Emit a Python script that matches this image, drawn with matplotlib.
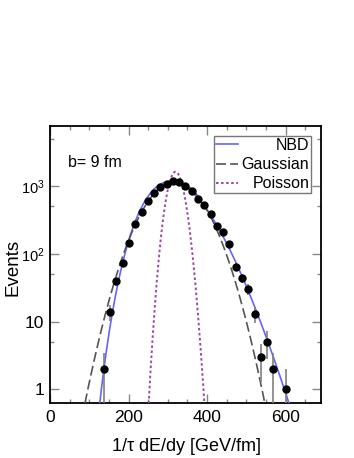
import math
import numpy as np
import matplotlib
matplotlib.use("Agg")
import matplotlib.pyplot as plt
from matplotlib.ticker import FixedLocator, NullFormatter, FuncFormatter

plt.rcParams['font.family'] = ['Liberation Sans', 'DejaVu Sans']
plt.rcParams['mathtext.fontset'] = 'custom'
plt.rcParams['mathtext.rm'] = 'Liberation Sans'

# ---- data ----
energy = [137, 153, 169, 185, 201, 217, 233, 249, 265, 281, 297, 313, 329, 345,
          361, 377, 393, 409, 425, 441, 457, 473, 489, 505, 521, 537, 553, 569, 601]
events = [2, 14, 40, 73, 146, 272, 418, 607, 796, 977, 1070, 1197, 1133, 989,
          851, 649, 524, 382, 254, 211, 138, 64, 44, 30, 13, 3, 5, 2, 1]

# fit-curve parameters
nbd_mode, nbd_shape, nbd_peak = 307.0, 26.3, 1170.0
gauss_mean, gauss_sigma, gauss_peak = 318.0, 59.0, 1160.0
pois_mean, pois_peak = 320.0, 1625.0

xgrid = np.linspace(1, 690, 1400)

def nbd_curve(x):
    a1 = nbd_shape - 1.0
    r = x / nbd_mode
    return nbd_peak * np.exp(a1 * (np.log(r) - r + 1.0))

def gauss_curve(x):
    return gauss_peak * np.exp(-0.5 * ((x - gauss_mean) / gauss_sigma) ** 2)

def pois_curve(x):
    lg = np.array([math.lgamma(v + 1.0) for v in x])
    logp = x * np.log(pois_mean) - pois_mean - lg
    lgm = math.lgamma(pois_mean + 1.0)
    logp0 = pois_mean * np.log(pois_mean) - pois_mean - lgm
    return pois_peak * np.exp(logp - logp0)

fig = plt.figure(figsize=(3.54, 4.58), dpi=100)
ax = fig.add_axes([0.1412, 0.1207, 0.7656, 0.6042])

ax.plot(xgrid, nbd_curve(xgrid), color='#6464ff', lw=1.2, label='NBD', zorder=3)
ax.plot(xgrid, gauss_curve(xgrid), color='#555555', lw=1.2, dashes=(6, 2.5),
        label='Gaussian', zorder=3)
ax.plot(xgrid, pois_curve(xgrid), color='#a046a8', lw=1.4, dashes=(1.3, 1.3),
        label='Poisson', zorder=3)

ev = np.array(events, dtype=float)
err = np.sqrt(ev)
ax.errorbar(energy, ev, yerr=err, fmt='none', ecolor='#808080', elinewidth=1.2,
            capsize=0, zorder=4)
ax.plot(energy, ev, 'o', color='black', ms=5.0, zorder=5)

ax.set_yscale('log')
ax.set_xlim(0, 690)
ax.set_ylim(0.634, 7700)

ax.xaxis.set_major_locator(FixedLocator([0, 200, 400, 600]))
ax.xaxis.set_minor_locator(FixedLocator([50, 100, 150, 250, 300, 350, 450, 500, 550, 650]))
ax.yaxis.set_major_locator(FixedLocator([1, 10, 100, 1000]))
ax.yaxis.set_minor_locator(FixedLocator([5, 50, 500, 5000]))
ax.yaxis.set_minor_formatter(NullFormatter())

def yfmt(v, pos):
    if v == 1:
        return '1'
    if v == 10:
        return '10'
    e = int(round(math.log10(v)))
    return r'$\mathregular{10^{%d}}$' % e
ax.yaxis.set_major_formatter(FuncFormatter(yfmt))

ax.tick_params(which='both', direction='in', top=True, right=True,
               color='#888888', labelsize=12.5, width=1.0)
ax.tick_params(which='major', length=6.5, pad=5)
ax.tick_params(axis='y', which='major', pad=4)
ax.tick_params(which='minor', length=3.2)
for s in ax.spines.values():
    s.set_linewidth(1.3)
    s.set_color('black')

ax.set_xlabel(r'1/$\mathregular{\tau}$ dE/dy [GeV/fm]', fontsize=13, labelpad=8)
ax.set_ylabel('Events', fontsize=13.5)
ax.yaxis.set_label_coords(-0.106, 0.49)

ax.text(0.067, 0.853, 'b= 9 fm', transform=ax.transAxes, fontsize=11.5,
        ha='left', va='baseline')

leg = ax.legend(loc='upper right', bbox_to_anchor=(0.964, 0.964), fontsize=11.5,
                frameon=True, fancybox=False, handlelength=1.35, handletextpad=0.25,
                borderpad=0.12, labelspacing=0.27, borderaxespad=0.0)
leg.get_frame().set_edgecolor('#555555')
leg.get_frame().set_linewidth(1.0)
fig.canvas.draw()
for lab in ax.get_yticklabels():
    if '^' in lab.get_text():
        lab.set_fontsize(10.5)
renderer = fig.canvas.get_renderer()
widths = [t.get_window_extent(renderer).width for t in leg.get_texts()]
shift = max(widths)
for t, w in zip(leg.get_texts(), widths):
    t.set_ha('right')
    t.set_position((shift - w, 0))

fig.savefig('out.png', dpi=100)
